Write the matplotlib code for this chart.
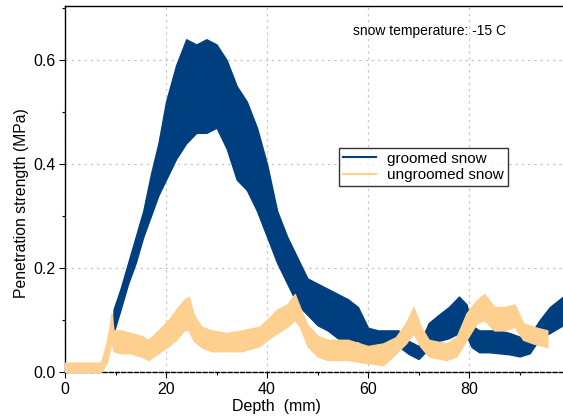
import matplotlib.pyplot as plt
from matplotlib.ticker import MultipleLocator

plt.rcParams['font.family'] = ['Liberation Sans', 'DejaVu Sans']

# groomed snow: band of the noisy trace (lower / upper edge)
groomed_depth = [9.6, 11, 12.5, 14, 15.5, 17, 18.5, 20, 22, 24, 26, 28, 30, 32, 34, 36,
                 38, 40, 42, 44, 46, 48, 50, 52, 54, 56, 58, 60, 62, 64, 66, 68, 70, 72,
                 74, 76, 78, 79.5, 80.5, 82, 84, 86, 88, 90, 92, 94, 96, 98.6]
groomed_lo = [0.075, 0.12, 0.17, 0.21, 0.26, 0.30, 0.34, 0.37, 0.41, 0.44, 0.46, 0.46,
              0.47, 0.43, 0.37, 0.35, 0.31, 0.26, 0.21, 0.17, 0.13, 0.11, 0.09, 0.08,
              0.065, 0.055, 0.06, 0.045, 0.048, 0.05, 0.05, 0.035, 0.025, 0.045, 0.06,
              0.065, 0.075, 0.07, 0.048, 0.038, 0.038, 0.036, 0.034, 0.03, 0.036, 0.065,
              0.075, 0.09]
groomed_hi = [0.12, 0.16, 0.21, 0.26, 0.31, 0.38, 0.44, 0.52, 0.59, 0.64, 0.63, 0.64,
              0.63, 0.60, 0.55, 0.52, 0.47, 0.40, 0.31, 0.26, 0.22, 0.18, 0.17, 0.16,
              0.15, 0.14, 0.125, 0.085, 0.08, 0.08, 0.08, 0.06, 0.05, 0.094, 0.11, 0.125,
              0.145, 0.13, 0.09, 0.08, 0.08, 0.08, 0.075, 0.068, 0.07, 0.1, 0.125, 0.145]

# ungroomed snow
ungroomed_depth = [0, 7, 7.5, 8.3, 8.8, 9.2, 9.6, 11, 13, 15, 16.5, 18.5, 20.5, 22, 23.5,
                   24.5, 25.5, 27, 29, 32, 35, 38.5, 40.5, 42, 44, 45.5, 46.5, 48, 50, 52,
                   56, 60, 63, 65.5, 67.5, 69, 70.3, 72, 75.5, 77.5, 79.5, 81.5, 83, 85,
                   87, 89, 90.7, 92.7, 95.5]
ungroomed_lo = [0, 0, 0.005, 0.02, 0.04, 0.06, 0.04, 0.036, 0.036, 0.03, 0.023, 0.036,
                0.05, 0.062, 0.08, 0.08, 0.06, 0.048, 0.04, 0.04, 0.04, 0.05, 0.065,
                0.075, 0.087, 0.1, 0.087, 0.05, 0.03, 0.023, 0.023, 0.017, 0.013, 0.036,
                0.055, 0.075, 0.05, 0.03, 0.023, 0.03, 0.062, 0.094, 0.1, 0.08, 0.08,
                0.087, 0.062, 0.055, 0.048]
ungroomed_hi = [0.018, 0.018, 0.03, 0.06, 0.085, 0.113, 0.08, 0.08, 0.075, 0.07, 0.062,
                0.08, 0.10, 0.12, 0.138, 0.145, 0.11, 0.087, 0.08, 0.075, 0.08, 0.087,
                0.105, 0.12, 0.13, 0.15, 0.125, 0.09, 0.07, 0.062, 0.062, 0.05, 0.055,
                0.067, 0.094, 0.125, 0.09, 0.062, 0.055, 0.067, 0.113, 0.138, 0.15, 0.125,
                0.125, 0.13, 0.094, 0.087, 0.08]

blue = '#003f7f'
orange = '#fdd08f'

fig = plt.figure(figsize=(5.63, 4.19), dpi=100)
ax = fig.add_axes([65 / 563, 1 - 372 / 419, 1 - 65 / 563, 366 / 419])

ax.fill_between(groomed_depth, groomed_lo, groomed_hi, color=blue, lw=1.0, zorder=2)
ax.plot([], [], color=blue, lw=1.5, label='groomed snow')
ax.fill_between(ungroomed_depth, ungroomed_lo, ungroomed_hi, color=orange, lw=1.0, zorder=3)
ax.plot([], [], color=orange, lw=1.5, label='ungroomed snow')

ax.set_xlim(0, 98.6)
ax.set_ylim(0, 0.704)
ax.xaxis.set_major_locator(MultipleLocator(20))
ax.xaxis.set_minor_locator(MultipleLocator(10))
ax.yaxis.set_major_locator(MultipleLocator(0.2))
ax.yaxis.set_minor_locator(MultipleLocator(0.1))
ax.yaxis.set_major_formatter(plt.FormatStrFormatter('%.1f'))
ax.tick_params(labelsize=11.5, length=4, width=0.8, pad=3)
ax.tick_params(which='minor', length=2.5, width=0.8)
ax.grid(True, which='major', linestyle=(0, (2, 3)), color='#c8c8c8', lw=0.9)
ax.set_axisbelow(True)

ax.spines['right'].set_visible(False)
ax.spines['bottom'].set_linestyle((0, (3, 1.5)))
for s in ax.spines.values():
    s.set_linewidth(1.0)

ax.set_xlabel('Depth  (mm)', fontsize=11.5)
ax.xaxis.set_label_coords(0.424, -0.075)
ax.set_ylabel('Penetration strength (MPa)', fontsize=11.3)
ax.yaxis.set_label_coords(-0.072, 0.462)

fig.text(353 / 563, 1 - 31 / 419, 'snow temperature: -15 C', fontsize=10, va='center')

leg = ax.legend(loc='upper left', bbox_to_anchor=(339 / 563, 1 - 148 / 419),
                bbox_transform=fig.transFigure, fontsize=11, frameon=True, fancybox=False,
                edgecolor='black', borderaxespad=0, borderpad=0.25, handlelength=2.2,
                handletextpad=0.7, labelspacing=0.15)
leg.get_frame().set_linewidth(1.0)

fig.savefig('out.png', dpi=100)
